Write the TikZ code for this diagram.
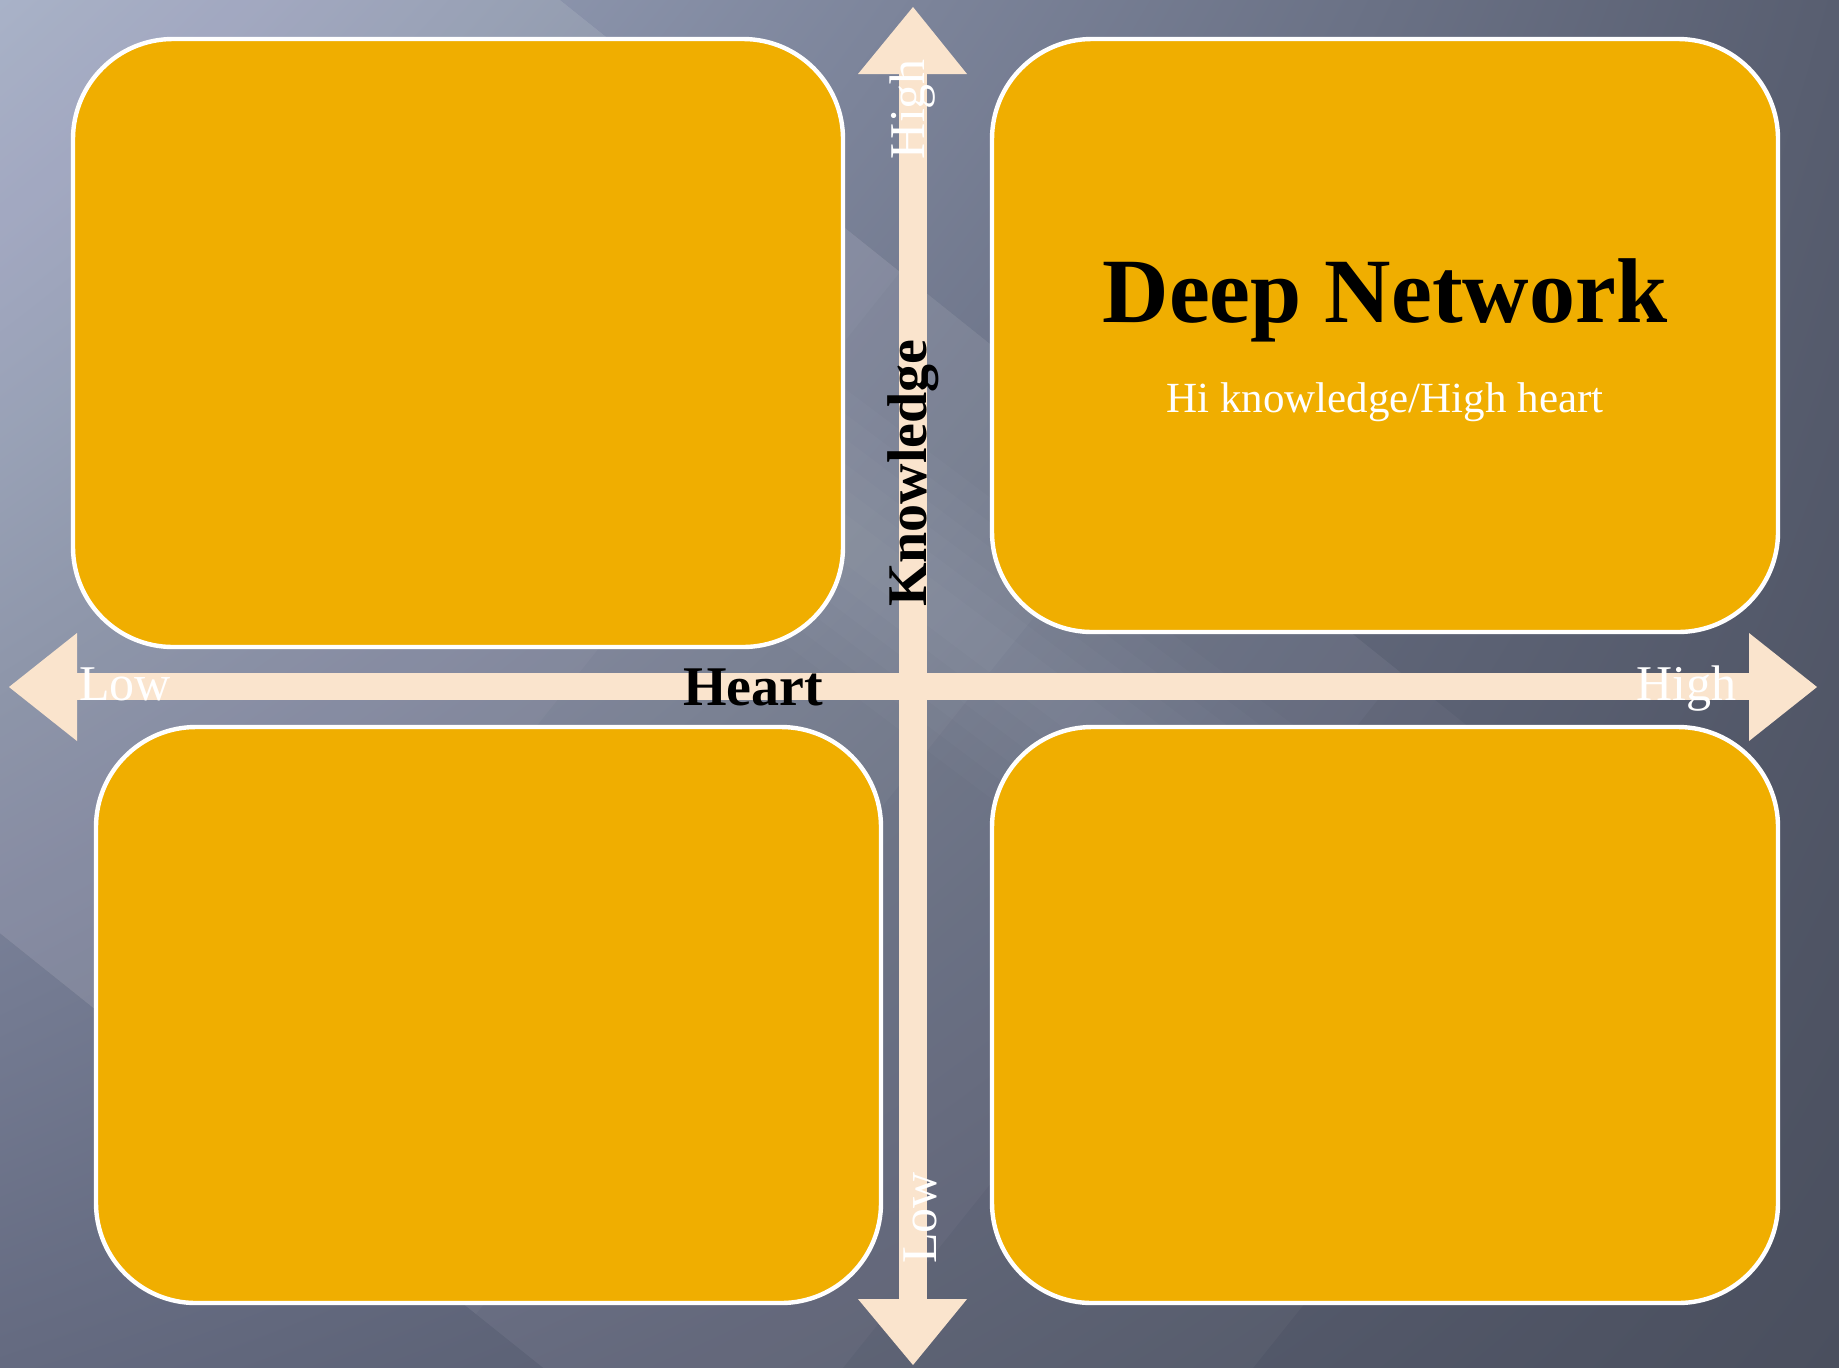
\documentclass[tikz,border=0pt]{standalone}
\usepackage{fontspec}
\setmainfont{Liberation Serif}
\usetikzlibrary{shadings}
\definecolor{boxfill}{RGB}{240,174,0}
\definecolor{arrowcol}{RGB}{250,228,205}
\definecolor{bgUL}{RGB}{160,170,196}
\definecolor{bgUR}{RGB}{88,94,112}
\definecolor{bgLL}{RGB}{100,106,128}
\definecolor{bgLR}{RGB}{74,79,94}
\begin{document}
\begin{tikzpicture}[x=0.5pt,y=-0.5pt,
  quad/.style={draw=white, line width=2.2pt, fill=boxfill, rounded corners=50pt, inner sep=0pt},
  axisfill/.style={fill=arrowcol},
  wlabel/.style={text=white, inner sep=0pt, font=\fontsize{25}{29}\selectfont},
  blabel/.style={text=black, inner sep=0pt, font=\bfseries\fontsize{28}{32}\selectfont}]

\useasboundingbox (0,0) rectangle (1839,1367);

% background
\shade[upper left=bgUL, upper right=bgUR, lower left=bgLL, lower right=bgLR] (0,0) rectangle (1839,1367);
\begin{scope}
  \clip (0,0) rectangle (1839,1367);
  % wide light band, fading towards the lower right
  \foreach \a in {900,1150,1400,1650}{
    \fill[white, opacity=0.03] (-100,-528) -- (\a,{0.8*(\a-560)}) -- ({\a-674},{0.8*(\a-560)+842}) -- (-774,314) -- cycle;
  }
  % soft streak through the centre
  \foreach \w in {20,40,60,80,100,120}{
    \fill[white, opacity=0.018] ({400-0.6*\w},{205+0.8*\w}) -- ({1300-0.6*\w},{880+0.8*\w}) -- ({1300+0.6*\w},{880-0.8*\w}) -- ({400+0.6*\w},{205-0.8*\w}) -- cycle;
  }
\end{scope}

% quadrant boxes
\node[quad, minimum width=385pt, minimum height=304pt] (tl) at (458,343) {};
\node[quad, minimum width=393pt, minimum height=296.5pt] (tr) at (1385,335.5) {};
\node[quad, minimum width=392.5pt, minimum height=288pt] (bl) at (488.5,1015) {};
\node[quad, minimum width=393pt, minimum height=288pt] (br) at (1385,1015) {};

% axes
\fill[axisfill] (77,673) rectangle (1749,700);
\fill[axisfill] (77,633) -- (9,687) -- (77,741) -- cycle;
\fill[axisfill] (1749,633) -- (1817,687) -- (1749,741) -- cycle;
\fill[axisfill] (899,74) rectangle (927,1299);
\fill[axisfill] (858,74) -- (913,7) -- (967,74) -- cycle;
\fill[axisfill] (858,1299) -- (913,1365) -- (967,1299) -- cycle;

% labels
\node[wlabel, anchor=base west] (lowh) at (79,700) {Low};
\node[wlabel, anchor=base east] (highh) at (1737,700) {High};
\node[blabel, anchor=base] (heart) at (753,705) {Heart};
\node[blabel, rotate=90, anchor=base] (know) at (926,473) {Knowledge};
\node[wlabel, rotate=90, anchor=base] (highv) at (924,109) {High};
\node[wlabel, rotate=90, anchor=base] (lowv) at (936,1218) {Low};

\node[anchor=base, inner sep=0pt, font=\bfseries\fontsize{46}{50}\selectfont] (title) at (1385,322) {Deep Network};
\node[anchor=base, inner sep=0pt, text=white, font=\fontsize{21.5}{25}\selectfont] (sub) at (1385,412) {Hi knowledge/High heart};
\end{tikzpicture}
\end{document}
